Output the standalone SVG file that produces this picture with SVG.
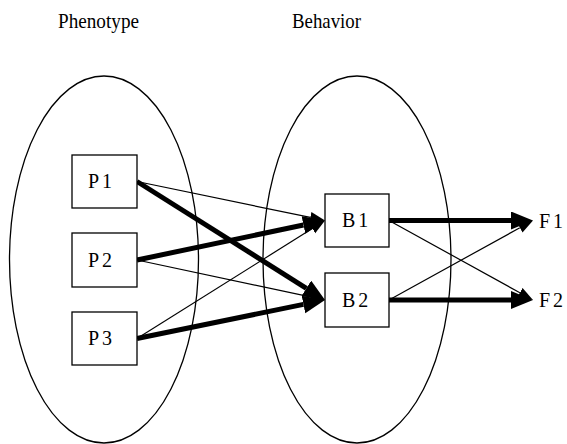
<svg xmlns="http://www.w3.org/2000/svg" width="567" height="444" viewBox="0 0 567 444">
  <style>
    .set { fill: none; stroke: #000; stroke-width: 1.3; }
    .box { fill: #fff; stroke: #000; stroke-width: 1.3; }
    .thin { stroke: #000; stroke-width: 1.2; fill: none; }
    .thick { stroke: #000; stroke-width: 5; fill: none; }
  </style>
  <defs>
    <marker id="headThin" markerUnits="userSpaceOnUse" markerWidth="16" markerHeight="12" refX="0" refY="5.5" orient="auto">
      <path d="M0,0 L15,5.5 L0,11 Z" fill="#000"/>
    </marker>
    <marker id="headThick" markerUnits="userSpaceOnUse" markerWidth="23" markerHeight="19" refX="0" refY="9" orient="auto">
      <path d="M0,0 L22,9 L0,18 Z" fill="#000"/>
    </marker>
  </defs>

  <!-- titles -->
  <g font-family="Liberation Serif, DejaVu Serif, serif" font-size="22" fill="#000">
    <text x="58" y="28" textLength="81" lengthAdjust="spacingAndGlyphs">Phenotype</text>
    <text x="292" y="28" textLength="69" lengthAdjust="spacingAndGlyphs">Behavior</text>
  </g>

  <!-- set outlines -->
  <ellipse id="phenotype-set" class="set" cx="104" cy="259.5" rx="94.5" ry="183.5"/>
  <ellipse id="behavior-set" class="set" cx="357" cy="259.5" rx="94" ry="183.5"/>

  <!-- connectors: each line stops at the base of its arrowhead -->
  <g id="connectors">
    <line class="thin" x1="137" y1="181.5" x2="310.31" y2="217.45" marker-end="url(#headThin)"/>
    <line class="thick" x1="137" y1="181.5" x2="306.39" y2="288.27" marker-end="url(#headThick)"/>
    <line class="thick" x1="137" y1="260" x2="303.47" y2="225.02" marker-end="url(#headThick)"/>
    <line class="thin" x1="137" y1="260" x2="310.33" y2="296.88" marker-end="url(#headThin)"/>
    <line class="thin" x1="137" y1="338.5" x2="312.30" y2="228.53" marker-end="url(#headThin)"/>
    <line class="thick" x1="137" y1="338.5" x2="303.45" y2="304.41" marker-end="url(#headThick)"/>
    <line class="thick" x1="389" y1="220.5" x2="511" y2="220.5" marker-end="url(#headThick)"/>
    <line class="thin" x1="389" y1="220.5" x2="519.87" y2="292.75" marker-end="url(#headThin)"/>
    <line class="thin" x1="389" y1="300" x2="519.87" y2="227.75" marker-end="url(#headThin)"/>
    <line class="thick" x1="389" y1="300" x2="511" y2="300" marker-end="url(#headThick)"/>
  </g>

  <g font-family="Liberation Serif, DejaVu Serif, serif" font-size="20" letter-spacing="3" fill="#000">
    <!-- phenotype nodes -->
    <g id="P1">
      <rect class="box" x="72" y="155" width="65" height="53"/>
      <text x="88" y="188">P1</text>
    </g>
    <g id="P2">
      <rect class="box" x="72" y="233" width="65" height="54"/>
      <text x="88" y="267">P2</text>
    </g>
    <g id="P3">
      <rect class="box" x="72" y="312" width="65" height="53"/>
      <text x="88" y="345">P3</text>
    </g>

    <!-- behavior nodes -->
    <g id="B1">
      <rect class="box" x="325" y="194" width="64" height="53"/>
      <text x="342" y="227">B1</text>
    </g>
    <g id="B2">
      <rect class="box" x="325" y="273" width="64" height="54"/>
      <text x="342" y="307">B2</text>
    </g>

    <!-- outcomes -->
    <g id="F1">
      <text x="539" y="228">F1</text>
    </g>
    <g id="F2">
      <text x="539" y="307">F2</text>
    </g>
  </g>
</svg>
